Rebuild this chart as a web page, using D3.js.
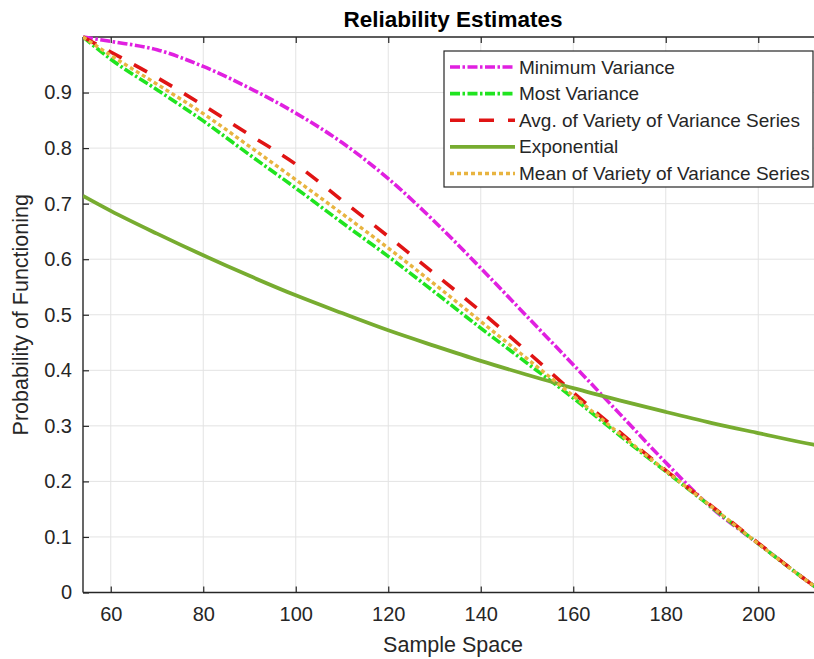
<!DOCTYPE html>
<html>
<head>
<meta charset="utf-8">
<script src="https://cdn.jsdelivr.net/npm/d3@7"></script>
<style>
  html, body { margin: 0; padding: 0; background: #fff; overflow: hidden; }
  svg { display: block; font-family: "Liberation Sans", Arial, Helvetica, sans-serif; }
</style>
</head>
<body>
<svg id="chart" width="814" height="659"></svg>
<script>
// Sample positions and reliability estimates for each method
const sampleSpace      = [54, 60, 70, 80, 90, 100, 110, 120, 130, 140, 150, 160, 170, 180, 190, 200, 212, 214];
const minimumVariance  = [1.0, 0.992, 0.977, 0.947, 0.908, 0.863, 0.810, 0.745, 0.668, 0.584, 0.497, 0.410, 0.322, 0.234, 0.152, 0.088, 0.012, 0.0];
const mostVariance     = [1.0, 0.960, 0.905, 0.849, 0.788, 0.728, 0.666, 0.605, 0.541, 0.476, 0.413, 0.350, 0.283, 0.218, 0.153, 0.088, 0.012, 0.0];
const avgVariety       = [1.0, 0.973, 0.927, 0.877, 0.824, 0.771, 0.706, 0.641, 0.574, 0.506, 0.434, 0.360, 0.289, 0.220, 0.155, 0.089, 0.012, 0.0];
const exponential      = [0.714, 0.687, 0.646, 0.607, 0.570, 0.535, 0.503, 0.472, 0.444, 0.417, 0.392, 0.368, 0.346, 0.325, 0.305, 0.287, 0.266, 0.263];
const meanVariety      = [1.0, 0.967, 0.915, 0.862, 0.803, 0.743, 0.682, 0.620, 0.555, 0.488, 0.421, 0.354, 0.286, 0.219, 0.154, 0.088, 0.012, 0.0];

const xTicks = [60, 80, 100, 120, 140, 160, 180, 200];
const yTicks = [0, 0.1, 0.2, 0.3, 0.4, 0.5, 0.6, 0.7, 0.8, 0.9];

const seriesNames = ["Minimum Variance", "Most Variance", "Avg. of Variety of Variance Series", "Exponential", "Mean of Variety of Variance Series"];
const seriesValues = [minimumVariance, mostVariance, avgVariety, exponential, meanVariety];
const seriesColors = ["#e020e0", "#20e420", "#e01414", "#77ac30", "#e8b440"];
const seriesDash   = ["10,2.5,2.5,2.5", "10,2.5,2.5,2.5", "15,14", null, "4,3"];
const seriesWidth  = [3.6, 3.6, 3.6, 3.8, 3.4];

const plot = { left: 83, right: 823, top: 37, bottom: 592.5 };
const axisColor = "#262626";

const svg = d3.select("#chart");
const x = d3.scaleLinear().domain([54, 214]).range([plot.left, plot.right]);
const y = d3.scaleLinear().domain([0, 1]).range([plot.bottom, plot.top]);

svg.append("defs").append("clipPath").attr("id", "plotClip")
  .append("rect")
  .attr("x", plot.left).attr("y", plot.top - 2)
  .attr("width", plot.right - plot.left).attr("height", plot.bottom - plot.top + 2);

// grid
const grid = svg.append("g");
grid.selectAll("line.vx").data(xTicks).join("line")
  .attr("x1", d => x(d)).attr("x2", d => x(d))
  .attr("y1", plot.top).attr("y2", plot.bottom)
  .attr("stroke", "#e3e3e3").attr("stroke-width", 1);
grid.selectAll("line.hy").data(yTicks.filter(d => d > 0)).join("line")
  .attr("x1", plot.left).attr("x2", plot.right)
  .attr("y1", d => y(d)).attr("y2", d => y(d))
  .attr("stroke", "#e3e3e3").attr("stroke-width", 1);

// axes with inward ticks
const xAxis = d3.axisBottom(x).tickValues(xTicks).tickSize(-6).tickPadding(14).tickFormat(d3.format("d"));
const xAxisTop = d3.axisTop(x).tickValues(xTicks).tickSize(-6).tickFormat("");
const yAxis = d3.axisLeft(y).tickValues(yTicks).tickSize(-6).tickPadding(11)
  .tickFormat(d => d === 0 ? "0" : d3.format(".1f")(d));

function styleAxis(g) {
  g.select(".domain").attr("stroke", axisColor).attr("stroke-width", 1.4);
  g.selectAll(".tick line").attr("stroke", axisColor).attr("stroke-width", 1.2);
  g.selectAll("text").attr("fill", axisColor).attr("font-size", 20)
    .attr("font-family", "'Liberation Sans', Arial, sans-serif");
}

svg.append("g").attr("transform", `translate(0,${plot.bottom})`).call(xAxis).call(styleAxis)
  .call(g => g.select(".domain").attr("d", `M${plot.left},0H${plot.right}`));
svg.append("g").attr("transform", `translate(0,${plot.top})`).call(xAxisTop).call(styleAxis)
  .call(g => g.select(".domain").attr("d", `M${plot.left},0H${plot.right}`));
svg.append("g").attr("transform", `translate(${plot.left},0)`).call(yAxis).call(styleAxis)
  .call(g => g.select(".domain").attr("d", `M0,${plot.bottom}V${plot.top}`));

// series lines
const line = d3.line().curve(d3.curveMonotoneX);
const lines = svg.append("g").attr("clip-path", "url(#plotClip)");
seriesValues.forEach((vals, i) => {
  lines.append("path")
    .datum(vals.map((v, j) => [x(sampleSpace[j]), y(v)]))
    .attr("d", line)
    .attr("fill", "none")
    .attr("stroke", seriesColors[i])
    .attr("stroke-width", seriesWidth[i])
    .attr("stroke-dasharray", seriesDash[i])
    .attr("stroke-linejoin", "round");
});

// legend
const legend = svg.append("g");
const lg = { left: 444, top: 51, right: 813, bottom: 187 };
legend.append("rect")
  .attr("x", lg.left).attr("y", lg.top)
  .attr("width", lg.right - lg.left).attr("height", lg.bottom - lg.top)
  .attr("fill", "#fff").attr("stroke", axisColor).attr("stroke-width", 1.2);
const rowY = d3.scaleLinear().domain([0, 4]).range([67, 173.5]);
seriesNames.forEach((name, i) => {
  legend.append("line")
    .attr("x1", 450).attr("x2", 515)
    .attr("y1", rowY(i)).attr("y2", rowY(i))
    .attr("stroke", seriesColors[i])
    .attr("stroke-width", seriesWidth[i])
    .attr("stroke-dasharray", seriesDash[i]);
  legend.append("text")
    .attr("x", 519).attr("y", rowY(i) + 6.5)
    .attr("font-size", 19).attr("fill", axisColor)
    .text(name);
});

// titles
svg.append("text")
  .attr("x", 453).attr("y", 26.5)
  .attr("text-anchor", "middle")
  .attr("font-size", 22.5).attr("font-weight", "bold").attr("fill", "#000")
  .text("Reliability Estimates");

svg.append("text")
  .attr("x", 453).attr("y", 652)
  .attr("text-anchor", "middle")
  .attr("font-size", 21.5).attr("fill", axisColor)
  .text("Sample Space");

svg.append("text")
  .attr("transform", `translate(28,${(plot.top + plot.bottom) / 2}) rotate(-90)`)
  .attr("text-anchor", "middle")
  .attr("font-size", 21.5).attr("fill", axisColor)
  .text("Probability of Functioning");
</script>
</body>
</html>
